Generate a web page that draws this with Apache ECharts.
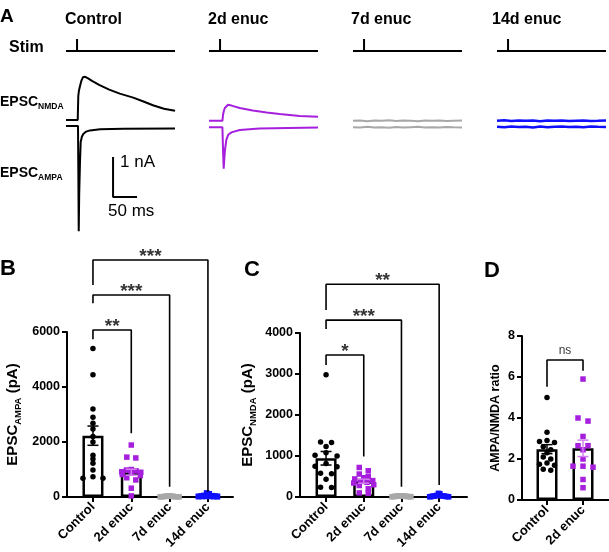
<!DOCTYPE html>
<html><head><meta charset="utf-8">
<script src="https://cdn.jsdelivr.net/npm/echarts@6/dist/echarts.min.js"></script>
<style>html,body{margin:0;padding:0;background:#fff}#c{width:609px;height:552px}</style>
</head><body><div id="c"></div>
<script>
// ================= DATA =================
// Panel A traces: time (ms) and current (nA, relative to baseline)
const conditions = ['Control', '2d enuc', '7d enuc', '14d enuc'];
const stimT = [0, 23, 23, 23, 227];
const stimV = [0, 0, 1, 0, 0];

const ctrlNmdaT = [0, 24.4, 25.6, 27, 29.2, 32, 35.4, 40, 46, 55, 70, 90, 112, 140, 160, 181, 204, 227];
const ctrlNmdaV = [0, 0, 0.6, 0.74, 0.85, 0.98, 1.07, 1.08, 1.04, 0.97, 0.87, 0.76, 0.66, 0.56, 0.47, 0.37, 0.28, 0.23];
const ctrlAmpaT = [0, 25, 25.8, 26.5, 27.5, 29.2, 30.6, 33, 36, 42, 50, 71, 120, 227];
const ctrlAmpaV = [0, 0, -1.3, -2.63, -1.7, -0.875, -0.4, -0.27, -0.2, -0.14, -0.11, -0.08, -0.07, -0.06];

const d2NmdaT = [0, 27.9, 29.2, 31, 33, 36, 39.6, 47, 64, 91, 120, 147, 189, 227];
const d2NmdaV = [-0.02, -0.02, 0.13, 0.23, 0.3, 0.35, 0.38, 0.36, 0.3, 0.24, 0.19, 0.15, 0.1, 0.08];
const d2AmpaT = [0, 27.9, 29.2, 30.6, 32, 33.3, 36.2, 40, 46.7, 64, 105, 227];
const d2AmpaV = [-0.03, -0.03, -0.6, -1.07, -0.8, -0.6, -0.34, -0.22, -0.16, -0.1, -0.065, -0.04];

const flatT = [0, 15, 30, 45, 60, 75, 90, 105, 120, 135, 150, 165, 180, 195, 210, 227];
const d7NmdaV = [-0.02, -0.01, -0.03, -0.01, -0.02, -0.005, -0.025, -0.01, -0.02, -0.03, -0.015, -0.02, -0.01, -0.025, -0.02, -0.015];
const d7AmpaV = [-0.03, -0.04, -0.02, -0.035, -0.03, -0.045, -0.025, -0.04, -0.03, -0.02, -0.035, -0.03, -0.04, -0.025, -0.03, -0.035];
const d14NmdaV = [-0.02, -0.005, -0.025, -0.01, -0.02, -0.01, -0.03, -0.015, -0.02, -0.01, -0.025, -0.02, -0.015, -0.025, -0.02, -0.01];
const d14AmpaV = [-0.02, -0.03, -0.01, -0.025, -0.02, -0.035, -0.015, -0.03, -0.02, -0.01, -0.025, -0.02, -0.03, -0.015, -0.02, -0.025];

const scaleBarT = 98, scaleBarV = -1.775, scaleBarDT = 50, scaleBarDV = 1;

// Panel B: EPSC AMPA (pA)
const catsBC = ['Control', '2d enuc', '7d enuc', '14d enuc'];
const ampaCtrl = [5400, 4450, 3200, 2900, 2680, 2470, 2200, 2000, 1520, 1380, 1230, 980, 740, 680, 680];
const ampa2d = [1890, 1450, 1420, 1000, 980, 950, 920, 900, 870, 820, 780, 700, 620, 320, 40];
const ampa7d = [40, 35, 30, 30, 25, 20, 20, 15, 15, 10, 10, 10, 5, 5];
const ampa14d = [150, 120, 60, 50, 40, 40, 30, 30, 20, 20, 15, 10, 10, 5];
const ampaMean = [2230, 900, 20, 40];
const ampaSem = [350, 110, 4, 12];
const sigB = ['***', '***', '**'];
const sigBTo = [3, 2, 1];
const sigBY = [8620, 7345, 6075];
const sigBLeft = [7710, 7045, 5735];
const sigBRight = [195, 375, 2315];

// Panel C: EPSC NMDA (pA)
const nmdaCtrl = [2980, 1340, 1330, 1230, 1080, 1020, 1000, 820, 750, 740, 580, 570, 430, 240, 230];
const nmda2d = [720, 640, 560, 500, 470, 440, 400, 380, 360, 340, 300, 280, 200, 100, 90];
const nmda7d = [30, 25, 25, 20, 20, 15, 15, 10, 10, 10, 5, 5, 20, 30];
const nmda14d = [90, 80, 40, 30, 30, 25, 20, 20, 15, 10, 10, 5, 5, 20];
const nmdaMean = [945, 385, 17, 30];
const nmdaSem = [165, 50, 3, 8];
const sigC = ['**', '***', '*'];
const sigCTo = [3, 2, 1];
const sigCY = [5190, 4315, 3465];
const sigCLeft = [4560, 4100, 3220];
const sigCRight = [295, 250, 985];

// Panel D: AMPA/NMDA ratio
const catsD = ['Control', '2d enuc'];
const ratioCtrl = [5.0, 3.3, 2.9, 2.85, 2.8, 2.6, 2.45, 2.3, 2.1, 2.0, 1.8, 1.75, 1.7, 1.5, 1.45];
const ratio2d = [5.9, 4.0, 3.85, 3.1, 2.65, 2.65, 2.45, 2.0, 1.65, 1.65, 1.6, 1.0, 0.6];
const ratioMean = [2.48, 2.52];
const ratioSem = [0.22, 0.4];
const sigD = ['ns'];
const sigDTo = [1];
const sigDY = [6.83];
const sigDLeft = [5.53];
const sigDRight = [6.31];

// ================= STYLE / LAYOUT =================
const FF = '"Liberation Sans", Arial, sans-serif';
const BLACK = '#000000', PURPLE = '#a61fdc', PURPLE_ERR = '#d27ff0', GRAY = '#a8a8a8', BLUE = '#1010ff';
const traceColors = [BLACK, PURPLE, GRAY, BLUE];
const traceWidths = [2, 2, 2, 2.5];
const aLeft = [66, 209, 353, 497];
const aWidth = 109, aTmax = 227;

const grid = [], xAxis = [], yAxis = [], series = [];
function addGrid(g) { grid.push(g); return grid.length - 1; }
function hiddenAxes(gi, xmin, xmax, ymin, ymax) {
  const xi = xAxis.length; xAxis.push({ gridIndex: gi, type: 'value', min: xmin, max: xmax, show: false });
  const yi = yAxis.length; yAxis.push({ gridIndex: gi, type: 'value', min: ymin, max: ymax, show: false });
  return [xi, yi];
}
function trace(xi, yi, T, V, color, width) {
  series.push({ type: 'line', xAxisIndex: xi, yAxisIndex: yi, data: T.map((t, k) => [t, V[k]]),
    symbol: 'none', showSymbol: false, lineStyle: { color, width }, clip: false, silent: true, z: 2 });
}

// ---- Panel A ----
const traceSets = [
  [ctrlNmdaT, ctrlNmdaV, ctrlAmpaT, ctrlAmpaV],
  [d2NmdaT, d2NmdaV, d2AmpaT, d2AmpaV],
  [flatT, d7NmdaV, flatT, d7AmpaV],
  [flatT, d14NmdaV, flatT, d14AmpaV]
];
let ctrlAmpaAxes = null;
conditions.forEach((c, i) => {
  const L = aLeft[i];
  let g = addGrid({ left: L, top: 39, width: aWidth, height: 12 });
  let [xi, yi] = hiddenAxes(g, 0, aTmax, 0, 1);
  trace(xi, yi, stimT, stimV, BLACK, 2);
  // NMDA: 0 nA at y=120, 40 px per nA
  g = addGrid({ left: L, top: 60, width: aWidth, height: 80 });
  [xi, yi] = hiddenAxes(g, 0, aTmax, -0.5, 1.5);
  trace(xi, yi, traceSets[i][0], traceSets[i][1], traceColors[i], traceWidths[i]);
  // AMPA: 0 nA at y=126
  g = addGrid({ left: L, top: 106, width: aWidth, height: 140 });
  [xi, yi] = hiddenAxes(g, 0, aTmax, -3, 0.5);
  trace(xi, yi, traceSets[i][2], traceSets[i][3], traceColors[i], traceWidths[i]);
  if (i === 0) ctrlAmpaAxes = [xi, yi];
});
// scale bar
series.push({ type: 'line', xAxisIndex: ctrlAmpaAxes[0], yAxisIndex: ctrlAmpaAxes[1],
  data: [[scaleBarT, scaleBarV + scaleBarDV], [scaleBarT, scaleBarV], [scaleBarT + scaleBarDT, scaleBarV]],
  symbol: 'none', lineStyle: { color: BLACK, width: 2 }, clip: false, silent: true });

// ---- swarm layout (rows, symmetric spread) ----
function swarm(vals, pxY, bandPx, step, maxHalf, rowH) {
  const idx = vals.map((v, i) => i).sort((a, b) => vals[b] - vals[a]);
  const rows = [];
  let cur = null;
  idx.forEach(i => {
    const y = vals[i] * pxY;
    if (!cur || cur.y0 - y > rowH) { cur = { y0: y, items: [] }; rows.push(cur); }
    cur.items.push(i);
  });
  const out = [];
  rows.forEach(r => {
    const n = r.items.length;
    const s = n > 1 ? Math.min(step, 2 * maxHalf / (n - 1)) : 0;
    const offs = [];
    for (let k = 0; k < n; k++) offs.push((k - (n - 1) / 2) * s);
    offs.sort((a, b) => Math.abs(a) - Math.abs(b) || a - b);
    r.items.forEach((i, k) => out.push([offs[k] / bandPx, vals[i]]));
  });
  return out;
}

// ---- Panels B, C, D ----
const axisLine = { show: true, onZero: false, lineStyle: { color: BLACK, width: 2 } };
function panel(cfg) {
  const fg = addGrid({ left: cfg.left, top: cfg.top, width: cfg.width, height: cfg.height });
  xAxis.push({ gridIndex: fg, type: 'value', min: 0, max: 1, axisLine, axisTick: { show: false },
    axisLabel: { show: false }, splitLine: { show: false } });
  yAxis.push({ gridIndex: fg, type: 'value', min: 0, max: cfg.ymax, interval: cfg.yint, axisLine,
    axisTick: { show: true, length: 5, lineStyle: { color: BLACK, width: 2 } },
    axisLabel: { margin: 7, color: BLACK, fontFamily: FF, fontWeight: 'bold', fontSize: 12.5, formatter: v => String(v) },
    splitLine: { show: false },
    name: cfg.name, nameLocation: 'middle', nameGap: cfg.nameGap, nameRotate: 90,
    nameTextStyle: cfg.nameStyle });
  const dg = addGrid({ left: cfg.dleft, top: cfg.top, width: cfg.dwidth, height: cfg.height });
  const xCat = xAxis.length;
  xAxis.push({ gridIndex: dg, type: 'category', data: cfg.cats, position: 'bottom',
    axisLine: { show: false },
    axisTick: { show: true, alignWithLabel: true, length: 5, lineStyle: { color: BLACK, width: 2 } },
    axisLabel: { rotate: 45, margin: 8, color: BLACK, fontFamily: FF, fontWeight: 'bold', fontSize: 13, interval: 0 } });
  const xVal = xAxis.length;
  xAxis.push({ gridIndex: dg, type: 'value', min: -0.5, max: cfg.cats.length - 0.5, show: false });
  const yD = yAxis.length;
  yAxis.push({ gridIndex: dg, type: 'value', min: 0, max: cfg.ymax, show: false });

  const pxY = cfg.height / cfg.ymax;
  const bandPx = cfg.dwidth / cfg.cats.length;

  series.push({ type: 'bar', xAxisIndex: xCat, yAxisIndex: yD, data: cfg.mean, barWidth: 21,
    itemStyle: { color: '#ffffff', borderColor: BLACK, borderWidth: 2.5 }, z: 2, silent: true });

  cfg.groups.forEach((vals, gi) => {
    const pts = swarm(vals, pxY, bandPx, cfg.steps[gi], cfg.maxHalf[gi], 3.5).map(p => [gi + p[0], p[1]]);
    series.push({ type: 'scatter', xAxisIndex: xVal, yAxisIndex: yD, data: pts,
      symbol: cfg.symbols[gi], symbolSize: cfg.sizes[gi], itemStyle: { color: cfg.colors[gi], opacity: 1 },
      clip: false, z: 3, silent: true });
  });

  series.push({ type: 'custom', xAxisIndex: xVal, yAxisIndex: yD,
    data: cfg.mean.map((m, i) => [i, m, cfg.sem[i]]),
    renderItem: (params, api) => {
      const x = api.value(0), m = api.value(1), s = api.value(2);
      const t = api.coord([x, m + s]), b = api.coord([x, m - s]);
      const col = cfg.errColors[params.dataIndex];
      const st = { stroke: col, lineWidth: 1.5 };
      const hw = 5.5;
      return { type: 'group', children: [
        { type: 'line', shape: { x1: t[0], y1: t[1], x2: b[0], y2: b[1] }, style: st },
        { type: 'line', shape: { x1: t[0] - hw, y1: t[1], x2: t[0] + hw, y2: t[1] }, style: st },
        { type: 'line', shape: { x1: b[0] - hw, y1: b[1], x2: b[0] + hw, y2: b[1] }, style: st }
      ] };
    }, z: 4, silent: true });

  cfg.sig.forEach((txt, k) => {
    const j = cfg.sigTo[k];
    series.push({ type: 'line', xAxisIndex: xVal, yAxisIndex: yD,
      data: [[0, cfg.sigLeft[k]], [0, cfg.sigY[k]], [j, cfg.sigY[k]], [j, cfg.sigRight[k]]],
      symbol: 'none', lineStyle: { color: BLACK, width: 1.6 }, clip: false, silent: true, z: 5 });
    series.push({ type: 'scatter', xAxisIndex: xVal, yAxisIndex: yD, data: [[j / 2, cfg.sigY[k]]],
      symbolSize: 0, clip: false, silent: true, z: 5,
      label: { show: true, position: 'top', distance: cfg.sigDist, formatter: txt, color: BLACK,
        fontFamily: FF, fontSize: cfg.sigFont, fontWeight: cfg.sigWeight } });
  });
}

const epscStyle = {
  rich: {
    a: { fontFamily: FF, fontSize: 15, fontWeight: 'bold', color: BLACK, lineHeight: 20 },
    s: { fontFamily: FF, fontSize: 9.5, fontWeight: 'bold', color: BLACK, lineHeight: 11, verticalAlign: 'bottom' }
  }
};

panel({ left: 67, top: 332, width: 166, height: 165, dleft: 73.8, dwidth: 153.3,
  ymax: 6000, yint: 2000, cats: catsBC, name: '{a|EPSC}{s|AMPA}{a| (pA)}', nameGap: 44, nameStyle: epscStyle,
  mean: ampaMean, sem: ampaSem, groups: [ampaCtrl, ampa2d, ampa7d, ampa14d],
  steps: [10, 9, 9, 9], maxHalf: [10, 9.5, 9.5, 9.5],
  symbols: ['circle', 'rect', 'rect', 'rect'], sizes: [5.5, 5.5, 5.5, 5.5],
  colors: [BLACK, PURPLE, GRAY, BLUE], errColors: [BLACK, PURPLE_ERR, GRAY, BLUE],
  sig: sigB, sigTo: sigBTo, sigY: sigBY, sigLeft: sigBLeft, sigRight: sigBRight,
  sigFont: 19, sigWeight: 'bold', sigDist: -6 });

panel({ left: 300, top: 333, width: 167, height: 164, dleft: 307.2, dwidth: 150.8,
  ymax: 4000, yint: 1000, cats: catsBC, name: '{a|EPSC}{s|NMDA}{a| (pA)}', nameGap: 42, nameStyle: epscStyle,
  mean: nmdaMean, sem: nmdaSem, groups: [nmdaCtrl, nmda2d, nmda7d, nmda14d],
  steps: [11, 9, 9, 9], maxHalf: [11, 10, 9.5, 9.5],
  symbols: ['circle', 'rect', 'rect', 'rect'], sizes: [5.5, 5.5, 5.5, 5.5],
  colors: [BLACK, PURPLE, GRAY, BLUE], errColors: [BLACK, PURPLE_ERR, GRAY, BLUE],
  sig: sigC, sigTo: sigCTo, sigY: sigCY, sigLeft: sigCLeft, sigRight: sigCRight,
  sigFont: 19, sigWeight: 'bold', sigDist: -6 });

panel({ left: 522, top: 336, width: 87, height: 164, dleft: 529, dwidth: 72,
  ymax: 8, yint: 2, cats: catsD, name: 'AMPA/NMDA ratio', nameGap: 20,
  nameStyle: { fontFamily: FF, fontSize: 12.5, fontWeight: 'bold', color: BLACK },
  mean: ratioMean, sem: ratioSem, groups: [ratioCtrl, ratio2d],
  steps: [7.5, 10], maxHalf: [10, 10],
  symbols: ['circle', 'rect'], sizes: [5.5, 5.5],
  colors: [BLACK, PURPLE], errColors: [BLACK, PURPLE_ERR],
  sig: sigD, sigTo: sigDTo, sigY: sigDY, sigLeft: sigDLeft, sigRight: sigDRight,
  sigFont: 12, sigWeight: 'normal', sigDist: 3 });

// ---- texts ----
function txt(x, y, text, size, weight, extra) {
  return Object.assign({ type: 'text', x, y, silent: true,
    style: { text, fill: BLACK, fontFamily: FF, fontSize: size, fontWeight: weight,
      align: 'left', verticalAlign: 'middle', textAlign: 'left', textVerticalAlign: 'middle' } }, extra || {});
}
const subRich = {
  a: { fontFamily: FF, fontSize: 14, fontWeight: 'bold', fill: BLACK, lineHeight: 18 },
  s: { fontFamily: FF, fontSize: 8.5, fontWeight: 'bold', fill: BLACK, lineHeight: 10, verticalAlign: 'bottom' }
};
const graphic = [
  txt(0, 17, 'A', 19, 'bold'),
  txt(65, 20, conditions[0], 16, 'bold'),
  txt(208, 20, conditions[1], 16, 'bold'),
  txt(351, 20, conditions[2], 16, 'bold'),
  txt(492, 20, conditions[3], 16, 'bold'),
  txt(9, 48, 'Stim', 16, 'bold'),
  { type: 'text', x: 0, y: 102, silent: true, style: { text: '{a|EPSC}{s|NMDA}', rich: subRich, verticalAlign: 'middle', textVerticalAlign: 'middle' } },
  { type: 'text', x: 0, y: 173, silent: true, style: { text: '{a|EPSC}{s|AMPA}', rich: subRich, verticalAlign: 'middle', textVerticalAlign: 'middle' } },
  txt(120, 162, '1 nA', 17, 'normal'),
  txt(108, 211, '50 ms', 17, 'normal'),
  txt(0, 269, 'B', 22, 'bold'),
  txt(244, 270, 'C', 22, 'bold'),
  txt(484, 271, 'D', 22, 'bold')
];

const chart = echarts.init(document.getElementById('c'), null, { renderer: 'canvas', width: 609, height: 552 });
chart.setOption({
  animation: false,
  backgroundColor: '#ffffff',
  textStyle: { fontFamily: FF },
  grid, xAxis, yAxis, series, graphic
});
</script>
</body></html>
